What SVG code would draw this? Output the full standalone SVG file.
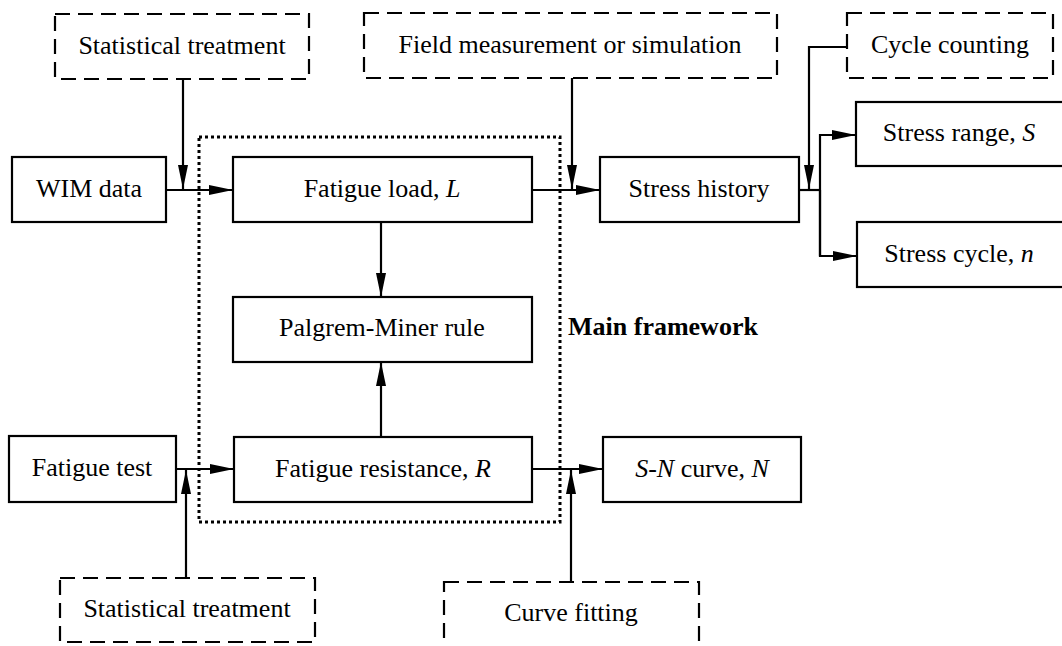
<svg xmlns="http://www.w3.org/2000/svg" width="1062" height="646" viewBox="0 0 1062 646">
<style>
.box{fill:#fff;stroke:#000;stroke-width:2.2}
.dash{fill:#fff;stroke:#000;stroke-width:2.2;stroke-dasharray:15 8}
.dot{fill:none;stroke:#000;stroke-width:3;stroke-dasharray:3 3}
.t{font-family:'Liberation Serif','Times New Roman','DejaVu Serif',serif;font-size:26px;fill:#000;text-anchor:middle}
.b{font-weight:bold;text-anchor:start}
.c{fill:none;stroke:#000;stroke-width:2.2}
</style>
<defs>
<marker id="ah" markerUnits="userSpaceOnUse" markerWidth="24" markerHeight="10" refX="24" refY="5" orient="auto">
<path d="M0,0 L24,5 L0,10 z" fill="#000"/>
</marker>
</defs>
<rect class="dot" x="199" y="137" width="361" height="385"/>
<g id="connectors">
<path class="c" d="M183,79 V189" marker-end="url(#ah)"/>
<path class="c" d="M166,190 H233" marker-end="url(#ah)"/>
<path class="c" d="M572,78 V189" marker-end="url(#ah)"/>
<path class="c" d="M532,190 H600" marker-end="url(#ah)"/>
<path class="c" d="M847,47 H809 V189" marker-end="url(#ah)"/>
<path class="c" d="M799,190 H820"/>
<path class="c" d="M820,256 V135 H856" marker-end="url(#ah)"/>
<path class="c" d="M820,190 V256 H857" marker-end="url(#ah)"/>
<path class="c" d="M381,222 V297" marker-end="url(#ah)"/>
<path class="c" d="M381,437 V362" marker-end="url(#ah)"/>
<path class="c" d="M176,469 H234" marker-end="url(#ah)"/>
<path class="c" d="M186,578 V470" marker-end="url(#ah)"/>
<path class="c" d="M532,469 H603" marker-end="url(#ah)"/>
<path class="c" d="M571,582 V470" marker-end="url(#ah)"/>
</g>
<g font-family="Liberation Serif, Times New Roman, serif">
<g id="stat1"><rect class="dash" x="55" y="14" width="254" height="65"/><text class="t" x="182" y="54">Statistical treatment</text></g>
<g id="field"><rect class="dash" x="364" y="13" width="413" height="65"/><text class="t" x="570" y="53">Field measurement or simulation</text></g>
<g id="cycle"><rect class="dash" x="847" y="13" width="206" height="65"/><text class="t" x="950" y="53">Cycle counting</text></g>
<g id="wim"><rect class="box" x="12" y="157" width="154" height="65"/><text class="t" x="89" y="197">WIM data</text></g>
<g id="load"><rect class="box" x="233" y="157" width="299" height="65"/><text class="t" x="382" y="197">Fatigue load, <tspan font-style="italic">L</tspan></text></g>
<g id="history"><rect class="box" x="600" y="157" width="199" height="65"/><text class="t" x="699" y="197">Stress history</text></g>
<g id="range"><rect class="box" x="856" y="102" width="210" height="64"/><text class="t" x="959" y="141">Stress range, <tspan font-style="italic">S</tspan></text></g>
<g id="scycle"><rect class="box" x="857" y="222" width="210" height="65"/><text class="t" x="959" y="262">Stress cycle, <tspan font-style="italic">n</tspan></text></g>
<g id="miner"><rect class="box" x="233" y="297" width="299" height="65"/><text class="t" x="382" y="336">Palgrem-Miner rule</text></g>
<g id="label"><text class="t b" x="568" y="335">Main framework</text></g>
<g id="test"><rect class="box" x="9" y="436" width="167" height="66"/><text class="t" x="92" y="476">Fatigue test</text></g>
<g id="resist"><rect class="box" x="234" y="437" width="298" height="65"/><text class="t" x="383" y="477">Fatigue resistance, <tspan font-style="italic">R</tspan></text></g>
<g id="sn"><rect class="box" x="603" y="437" width="198" height="65"/><text class="t" x="702" y="477"><tspan font-style="italic">S-N</tspan> curve, <tspan font-style="italic">N</tspan></text></g>
<g id="stat2"><rect class="dash" x="60" y="578" width="255" height="64"/><text class="t" x="187" y="617">Statistical treatment</text></g>
<g id="curve"><rect class="dash" x="444" y="582" width="255" height="72"/><text class="t" x="571" y="621">Curve fitting</text></g>
</g>
</svg>
